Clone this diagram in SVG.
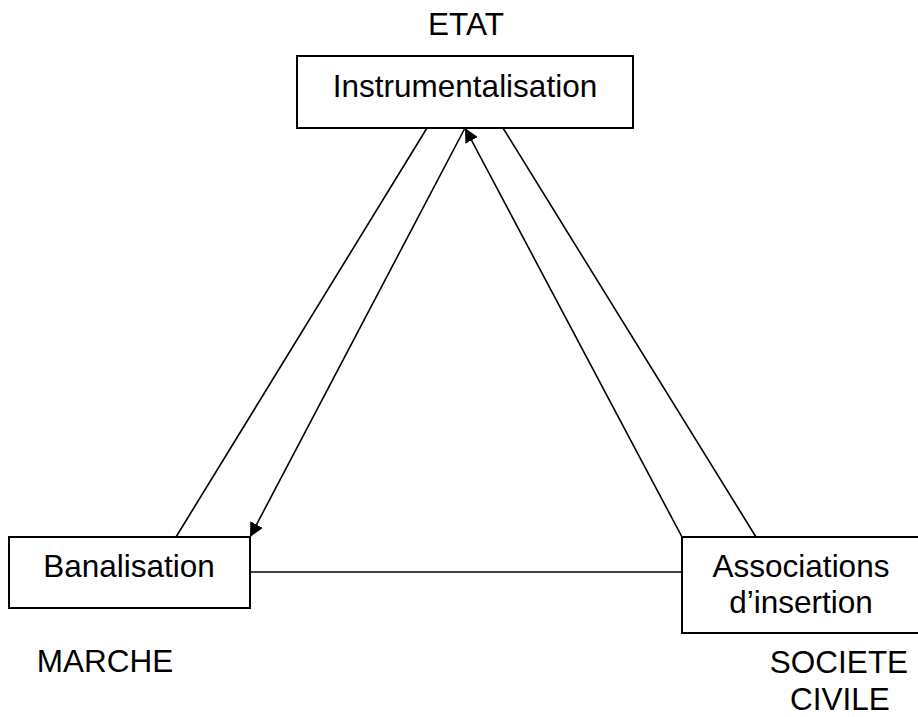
<svg xmlns="http://www.w3.org/2000/svg" width="918" height="717" viewBox="0 0 918 717">
<style>
.box{fill:#fff;stroke:#000;stroke-width:2}
.t{font-family:"Liberation Sans",Arial,sans-serif;font-size:31.5px;fill:#000}
.c{stroke:#000;stroke-width:1.6;fill:none}
</style>
<defs>
<marker id="ah" viewBox="0 0 10 10" refX="10" refY="5" markerWidth="14" markerHeight="14" markerUnits="userSpaceOnUse" orient="auto">
<path d="M0,0 L10,5 L0,10 z" fill="#000"/>
</marker>
</defs>
<rect width="918" height="717" fill="#fff"/>
<g id="connectors">
<line class="c" x1="427" y1="128" x2="176" y2="537"/>
<line class="c" x1="465" y1="128" x2="250" y2="537" marker-end="url(#ah)"/>
<line class="c" x1="682" y1="537" x2="465" y2="128" marker-end="url(#ah)"/>
<line class="c" x1="503" y1="128" x2="756" y2="537"/>
<line class="c" x1="250" y1="572" x2="682" y2="572"/>
</g>
<g id="etat">
<rect class="box" x="297" y="56" width="336" height="72"/>
<text class="t" x="465" y="97" text-anchor="middle">Instrumentalisation</text>
<text class="t" x="466" y="35" text-anchor="middle">ETAT</text>
</g>
<g id="marche">
<rect class="box" x="9" y="537" width="241" height="71"/>
<text class="t" x="129" y="577" text-anchor="middle">Banalisation</text>
<text class="t" x="105" y="672" text-anchor="middle">MARCHE</text>
</g>
<g id="societe">
<rect class="box" x="682" y="537" width="250" height="96"/>
<text class="t" x="801" y="577" text-anchor="middle">Associations</text>
<text class="t" x="801" y="613" text-anchor="middle">d’insertion</text>
<text class="t" x="839" y="673" text-anchor="middle">SOCIETE</text>
<text class="t" x="840" y="710" text-anchor="middle">CIVILE</text>
</g>
</svg>
